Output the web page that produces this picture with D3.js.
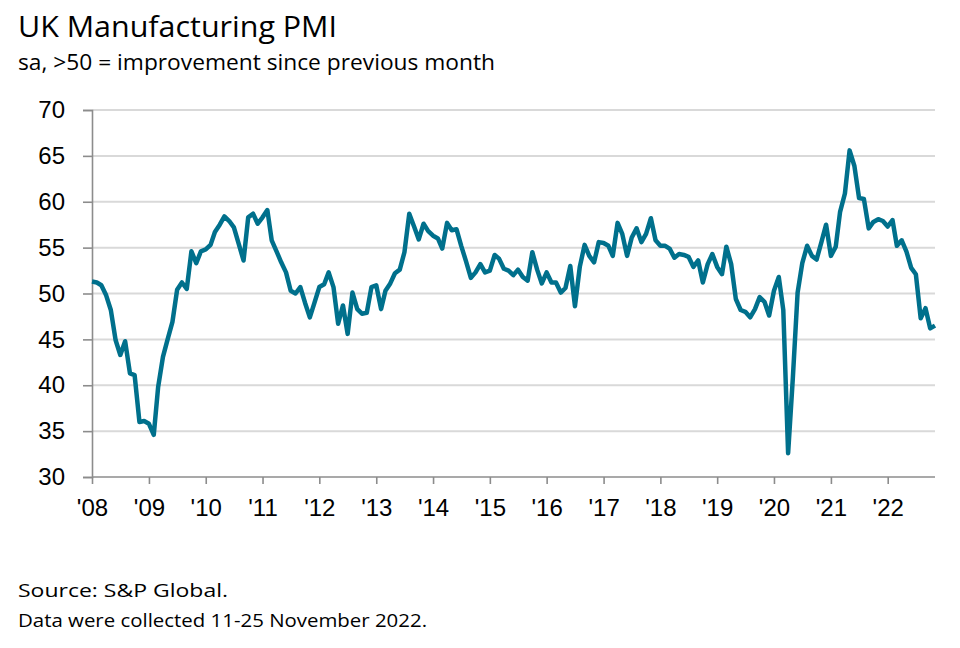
<!DOCTYPE html>
<html>
<head>
<meta charset="utf-8">
<script src="https://cdn.jsdelivr.net/npm/d3@7"></script>
<style>
  html, body { margin: 0; padding: 0; background: #ffffff; }
  svg { display: block; }
</style>
</head>
<body>
<svg id="chart" width="960" height="648"></svg>
<script>
// ---- Data: UK Manufacturing PMI, monthly, seasonally adjusted ----
const startYear = 2008;
const pmi2008 = [51.3, 51.2, 50.9, 49.8, 48.2, 44.9, 43.3, 44.8, 41.3, 41.1, 36.0, 36.1];
const pmi2009 = [35.8, 34.6, 39.8, 43.1, 45.0, 46.9, 50.4, 51.2, 50.5, 54.6, 53.3, 54.6];
const pmi2010 = [54.8, 55.3, 56.7, 57.5, 58.4, 57.9, 57.2, 55.4, 53.6, 58.3, 58.7, 57.6];
const pmi2011 = [58.3, 59.1, 55.8, 54.6, 53.4, 52.3, 50.3, 50.0, 50.7, 49.0, 47.4, 49.0];
const pmi2012 = [50.7, 51.0, 52.3, 50.7, 46.7, 48.7, 45.6, 50.1, 48.3, 47.8, 47.9, 50.7];
const pmi2013 = [50.9, 48.3, 50.3, 51.1, 52.2, 52.6, 54.5, 58.7, 57.3, 55.9, 57.6, 56.8];
const pmi2014 = [56.3, 56.0, 54.9, 57.7, 56.9, 57.0, 55.2, 53.5, 51.7, 52.3, 53.2, 52.3];
const pmi2015 = [52.5, 54.2, 53.8, 52.7, 52.5, 52.0, 52.6, 51.8, 51.4, 54.5, 52.6, 51.1];
const pmi2016 = [52.3, 51.2, 51.2, 50.1, 50.6, 53.0, 48.6, 52.9, 55.3, 54.1, 53.4, 55.6];
const pmi2017 = [55.5, 55.2, 54.1, 57.7, 56.5, 54.1, 56.1, 57.1, 55.6, 56.5, 58.2, 55.8];
const pmi2018 = [55.2, 55.2, 54.9, 53.9, 54.3, 54.2, 54.0, 52.9, 53.6, 51.2, 53.2, 54.3];
const pmi2019 = [52.9, 52.1, 55.1, 53.2, 49.4, 48.2, 48.0, 47.4, 48.3, 49.6, 49.1, 47.6];
const pmi2020 = [50.3, 51.8, 48.2, 32.6, 40.7, 50.1, 53.3, 55.2, 54.1, 53.7, 55.6, 57.5];
const pmi2021 = [54.1, 55.1, 58.9, 60.9, 65.6, 63.9, 60.4, 60.3, 57.1, 57.8, 58.1, 57.9];
const pmi2022 = [57.3, 58.0, 55.2, 55.8, 54.6, 52.8, 52.1, 47.3, 48.4, 46.2, 46.5];

const yTicks = [30, 35, 40, 45, 50, 55, 60, 65, 70];
const xTickYears = [2008, 2009, 2010, 2011, 2012, 2013, 2014, 2015, 2016, 2017, 2018, 2019, 2020, 2021, 2022];

const titleText = "UK Manufacturing PMI";
const subtitleText = "sa, >50 = improvement since previous month";
const sourceText = "Source: S&P Global.";
const noteText = "Data were collected 11-25 November 2022.";

// ---- Build series ----
const years = [pmi2008, pmi2009, pmi2010, pmi2011, pmi2012, pmi2013, pmi2014,
               pmi2015, pmi2016, pmi2017, pmi2018, pmi2019, pmi2020, pmi2021, pmi2022];
const series = [];
years.forEach((vals, yi) => {
  vals.forEach((v, m) => series.push({ date: new Date(startYear + yi, m, 1), value: v }));
});

// ---- Layout ----
const svg = d3.select("#chart");
const plotLeft = 92, plotRight = 935, plotTop = 110, plotBottom = 477;

const x = d3.scaleTime()
  .domain([series[0].date, series[series.length - 1].date])
  .range([plotLeft, plotRight]);
const y = d3.scaleLinear().domain([30, 70]).range([plotBottom, plotTop]);

// Gridlines
svg.append("g")
  .selectAll("line")
  .data(yTicks.filter(t => t !== 30))
  .join("line")
  .attr("x1", plotLeft).attr("x2", plotRight)
  .attr("y1", d => y(d)).attr("y2", d => y(d))
  .attr("stroke", "#d9d9d9")
  .attr("stroke-width", 2);

// Y axis
const yAxis = svg.append("g")
  .attr("transform", `translate(${plotLeft},0)`)
  .call(d3.axisLeft(y).tickValues(yTicks).tickSize(9).tickPadding(18).tickFormat(d3.format("d")));
yAxis.select(".domain").attr("stroke", "#8c8c8c").attr("stroke-width", 1.6);
yAxis.selectAll(".tick line").attr("stroke", "#8c8c8c").attr("stroke-width", 1.6);
yAxis.selectAll(".tick text")
  .attr("font-family", "'Liberation Sans', Arial, sans-serif")
  .attr("font-size", 24)
  .attr("fill", "#000");

// X axis
const xAxis = svg.append("g")
  .attr("transform", `translate(0,${plotBottom})`)
  .call(d3.axisBottom(x)
    .tickValues(xTickYears.map(yr => new Date(yr, 0, 1)))
    .tickSize(7)
    .tickPadding(15)
    .tickFormat(d => "'" + d3.timeFormat("%y")(d)));
xAxis.select(".domain").attr("stroke", "#8c8c8c").attr("stroke-width", 1.6)
  .attr("d", `M${plotLeft},0H${plotRight}`);
xAxis.selectAll(".tick line").attr("stroke", "#8c8c8c").attr("stroke-width", 1.6);
xAxis.selectAll(".tick text")
  .attr("font-family", "'Liberation Sans', Arial, sans-serif")
  .attr("font-size", 24)
  .attr("fill", "#000");

// Line
const line = d3.line()
  .x(d => x(d.date))
  .y(d => y(d.value));
svg.append("path")
  .datum(series)
  .attr("d", line)
  .attr("fill", "none")
  .attr("stroke", "#00708c")
  .attr("stroke-width", 4.5)
  .attr("stroke-linejoin", "round")
  .attr("stroke-linecap", "butt");

// Titles
const textFont = "'Open Sans', 'Noto Sans', sans-serif";
function addText(str, xPos, yPos, size, width) {
  svg.append("text").attr("x", xPos).attr("y", yPos)
    .attr("font-family", textFont).attr("font-size", size).attr("fill", "#000")
    .attr("textLength", width).attr("lengthAdjust", "spacingAndGlyphs")
    .text(str);
}
addText(titleText, 18, 37, 30, 319);
addText(subtitleText, 18, 70, 21, 477);
addText(sourceText, 18, 597, 19, 210);
addText(noteText, 18, 627, 19, 409);
</script>
</body>
</html>
